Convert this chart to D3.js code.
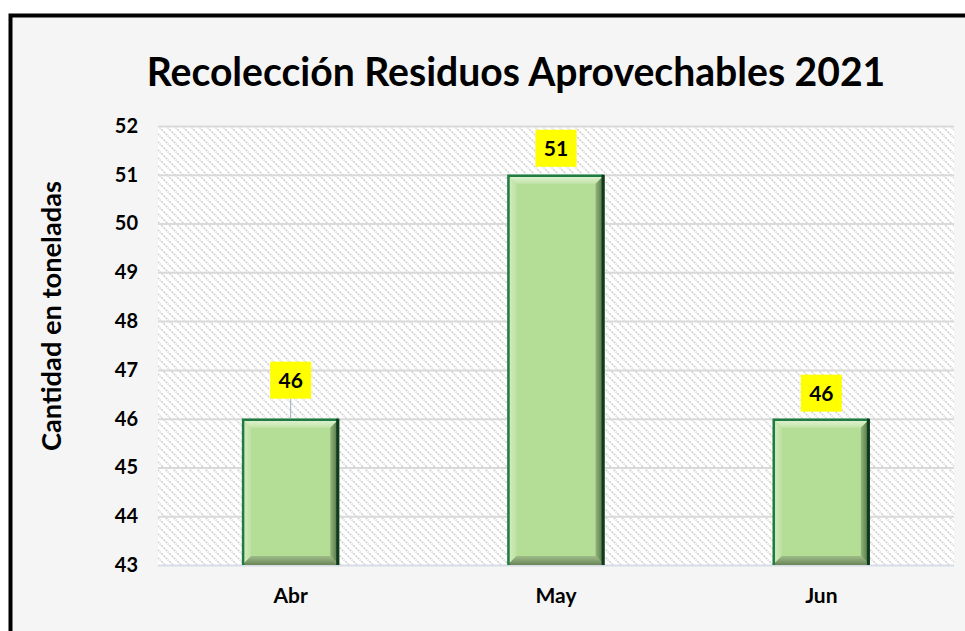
<!DOCTYPE html>
<html>
<head>
<meta charset="utf-8">
<script src="https://cdn.jsdelivr.net/npm/d3@7"></script>
<style>
  body { margin: 0; background: #fff; }
  text { font-family: Lato, "Open Sans", sans-serif; font-weight: bold; }
</style>
</head>
<body>
<div id="chart"></div>
<script>
// chart data
var months = ["Abr", "May", "Jun"];
var tons = [46, 51, 46];
var yTicks = [43, 44, 45, 46, 47, 48, 49, 50, 51, 52];

var width = 965, height = 631;
var plot = {left: 158, right: 954, top: 126, bottom: 565};

var svg = d3.select("#chart").append("svg")
    .attr("width", width).attr("height", height);

var defs = svg.append("defs");

// diagonal hatch used by the plot background
var hatch = defs.append("pattern")
    .attr("id", "hatch")
    .attr("patternUnits", "userSpaceOnUse")
    .attr("width", 8).attr("height", 8);
hatch.append("rect").attr("width", 8).attr("height", 8).attr("fill", "#ffffff");
hatch.append("path")
    .attr("d", "M-1,-1 L9,9 M-1,7 L1,9 M7,-1 L9,1")
    .attr("stroke", "#cdcdcd").attr("stroke-width", 1.4)
    .attr("stroke-dasharray", "2.2,1");

function grad(id, x2, y2, stops) {
  var g = defs.append("linearGradient").attr("id", id)
      .attr("x1", 0).attr("y1", 0).attr("x2", x2).attr("y2", y2);
  stops.forEach(function(s) {
    g.append("stop").attr("offset", s[0]).attr("stop-color", s[1]);
  });
}
grad("bevTop", 0, 1, [[0, "#e6f5da"], [1, "#c2e4a8"]]);
grad("bevLeft", 1, 0, [[0, "#d6eec4"], [1, "#bde1a2"]]);
grad("bevRight", 1, 0, [[0, "#93b57c"], [1, "#45683a"]]);
grad("bevBottom", 0, 1, [[0, "#9fbd88"], [1, "#6a865a"]]);

// outer frame
svg.append("rect")
    .attr("x", 0).attr("y", 0).attr("width", width).attr("height", height)
    .attr("fill", "#ffffff");
svg.append("rect")
    .attr("x", 10.5).attr("y", 15.5).attr("width", 970).attr("height", 640)
    .attr("fill", "#f5f5f5").attr("stroke", "#000").attr("stroke-width", 4);

var x = d3.scaleBand()
    .domain(months)
    .range([plot.left, plot.right])
    .paddingInner(0.634)
    .paddingOuter(0.317);

var y = d3.scaleLinear()
    .domain([43, 52])
    .range([plot.bottom, plot.top]);

// plot area
svg.append("rect")
    .attr("x", plot.left).attr("y", plot.top)
    .attr("width", plot.right - plot.left).attr("height", plot.bottom - plot.top)
    .attr("fill", "url(#hatch)");

// gridlines + y labels via axis
var yAxis = svg.append("g")
    .attr("transform", "translate(" + plot.left + ",0)")
    .call(d3.axisLeft(y).tickValues(yTicks).tickSize(-(plot.right - plot.left)).tickPadding(20));
yAxis.select(".domain").remove();
yAxis.selectAll(".tick line")
    .attr("stroke", function(d) { return d === 43 ? "#d5dce4" : "#d9d9d9"; })
    .attr("stroke-width", 2);
yAxis.selectAll(".tick text")
    .attr("fill", "#000").style("font-size", "20px")
    .style("font-family", "Lato, sans-serif").style("font-weight", "bold");

// x labels
var xAxis = svg.append("g")
    .attr("transform", "translate(0," + plot.bottom + ")")
    .call(d3.axisBottom(x).tickSize(0).tickPadding(23));
xAxis.select(".domain").remove();
xAxis.selectAll(".tick text")
    .attr("fill", "#000").style("font-size", "21px")
    .style("font-family", "Lato, sans-serif").style("font-weight", "bold");

// bars with bevel
var bev = 9;
var bars = svg.selectAll(".bar")
    .data(months.map(function(m, i) { return {m: m, v: tons[i]}; }))
    .enter().append("g").attr("class", "bar");

bars.each(function(d) {
  var g = d3.select(this);
  var x0 = x(d.m), x1 = x(d.m) + x.bandwidth();
  var y0 = y(d.v), y1 = y(43);
  g.append("rect").attr("x", x0).attr("y", y0)
      .attr("width", x1 - x0).attr("height", y1 - y0).attr("fill", "#b4dd96");
  g.append("path").attr("fill", "url(#bevTop)")
      .attr("d", "M" + x0 + "," + y0 + "L" + x1 + "," + y0 + "L" + (x1 - bev) + "," + (y0 + bev) + "L" + (x0 + bev) + "," + (y0 + bev) + "Z");
  g.append("path").attr("fill", "url(#bevLeft)")
      .attr("d", "M" + x0 + "," + y0 + "L" + (x0 + bev) + "," + (y0 + bev) + "L" + (x0 + bev) + "," + (y1 - bev) + "L" + x0 + "," + y1 + "Z");
  g.append("path").attr("fill", "url(#bevRight)")
      .attr("d", "M" + x1 + "," + y0 + "L" + x1 + "," + y1 + "L" + (x1 - bev) + "," + (y1 - bev) + "L" + (x1 - bev) + "," + (y0 + bev) + "Z");
  g.append("path").attr("fill", "url(#bevBottom)")
      .attr("d", "M" + x0 + "," + y1 + "L" + x1 + "," + y1 + "L" + (x1 - bev) + "," + (y1 - bev) + "L" + (x0 + bev) + "," + (y1 - bev) + "Z");
  // edges
  g.append("path").attr("fill", "none").attr("stroke", "#1f7a44").attr("stroke-width", 2.5)
      .attr("d", "M" + (x0 + 1) + "," + y1 + "L" + (x0 + 1) + "," + (y0 + 1) + "L" + (x1 - 1) + "," + (y0 + 1));
  g.append("line").attr("stroke", "#0e3a1e").attr("stroke-width", 3)
      .attr("x1", x1 - 1.5).attr("x2", x1 - 1.5).attr("y1", y0).attr("y2", y1);
});

// data labels in yellow boxes
var boxW = 41, boxH = 37;
var lift = {"Abr": 20, "May": 8, "Jun": 7};
bars.each(function(d) {
  var g = d3.select(this);
  var cx = x(d.m) + x.bandwidth() / 2;
  var by = y(d.v) - lift[d.m] - boxH;
  if (lift[d.m] > 10) {
    g.append("line").attr("x1", cx).attr("x2", cx)
        .attr("y1", by + boxH).attr("y2", y(d.v))
        .attr("stroke", "#a6b6c8").attr("stroke-width", 1.2);
  }
  g.append("rect").attr("x", cx - boxW / 2).attr("y", by)
      .attr("width", boxW).attr("height", boxH).attr("fill", "#ffff00");
  g.append("text").attr("x", cx).attr("y", by + boxH / 2 + 7.5)
      .attr("text-anchor", "middle").style("font-size", "21px").text(d.v);
});

// title
var title = svg.append("text")
    .attr("x", 516).attr("y", 86)
    .attr("text-anchor", "middle")
    .style("font-size", "38px")
    .text("Recolección Residuos Aprovechables 2021");
var tw = title.node().getComputedTextLength();
title.style("font-size", (38 * 739 / tw) + "px");

// y axis title
var ytitle = svg.append("text")
    .attr("transform", "translate(61,316) rotate(-90)")
    .attr("text-anchor", "middle")
    .style("font-size", "22px")
    .text("Cantidad en toneladas");
var yw = ytitle.node().getComputedTextLength();
ytitle.style("font-size", (22 * 270 / yw) + "px");
</script>
</body>
</html>
